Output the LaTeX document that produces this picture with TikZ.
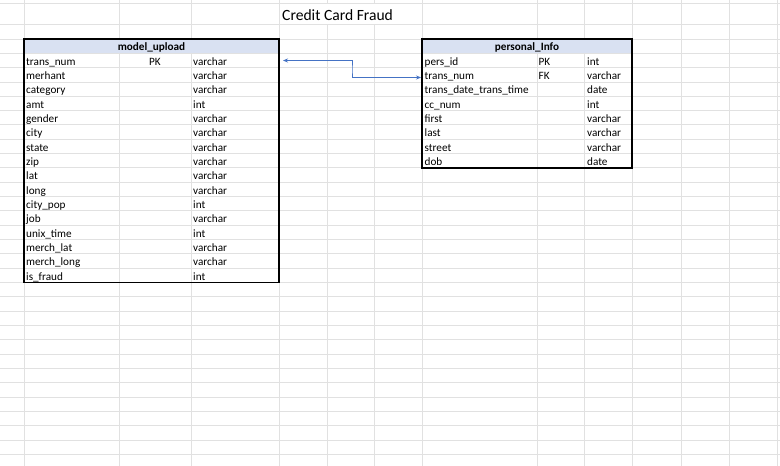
\documentclass[tikz,border=0pt]{standalone}
\usepackage{fontspec}
\setmainfont{Carlito}
\usetikzlibrary{arrows.meta}
\definecolor{gridgray}{HTML}{E1E1E1}
\definecolor{headblue}{HTML}{D9E1F2}
\definecolor{linkblue}{HTML}{4472C4}
\tikzset{
  gridline/.style={draw=gridgray, line width=0.9pt},
  tableframe/.style={draw=black, line width=1.4pt},
  cell/.style={anchor=base west, inner sep=0pt, font=\fontsize{11.2}{13}\selectfont},
  keycell/.style={anchor=base, inner sep=0pt, font=\fontsize{11.2}{13}\selectfont},
  headcell/.style={anchor=base, inner sep=0pt, font=\fontsize{11.2}{13}\selectfont\bfseries},
  titlecell/.style={anchor=base west, inner sep=0pt, font=\fontsize{15.6}{18}\selectfont}
}
\begin{document}
\begin{tikzpicture}[x=1pt, y=-1pt]
    \useasboundingbox[fill=white] (0,0) rectangle (780,466);
    % sheet grid
    \foreach \x in {24,119,191,279,422,537,584,632,681,729,777}
      \draw[gridline] (\x,0) -- (\x,466);
    \foreach \x in {327,374} {
      \draw[gridline] (\x,0) -- (\x,3);
      \draw[gridline] (\x,24) -- (\x,466);
    }
    \draw[gridline] (0,3) -- (780,3);
    \draw[gridline] (0,24) -- (780,24);
    \foreach \k in {0,...,29}
      \draw[gridline] (0,39+14.32*\k) -- (780,39+14.32*\k);
    \node[titlecell] (title) at (282,20.5) {Credit Card Fraud};

    % model_upload
    \fill[headblue] (24,39) rectangle (279,53.32);
    \draw[tableframe] (24,39) rectangle (279,282.44);
    \node[headcell] (muhead) at (151.5,50.5) {model\_upload};
    \foreach \name/\key/\type [count=\i] in {trans\_num/PK/varchar, merhant//varchar,
        category//varchar, amt//int, gender//varchar, city//varchar, state//varchar,
        zip//varchar, lat//varchar, long//varchar, city\_pop//int, job//varchar,
        unix\_time//int, merch\_lat//varchar, merch\_long//varchar, is\_fraud//int} {
      \node[cell] (mu-\i) at (26,51+14.32*\i) {\name};
      \node[keycell] (mukey-\i) at (155,51+14.32*\i) {\key};
      \node[cell] (mutype-\i) at (193,51+14.32*\i) {\type};
    }

    % personal_Info
    \fill[headblue] (422,39) rectangle (632,53.32);
    \draw[tableframe] (422,39) rectangle (632,167.88);
    \node[headcell] (pihead) at (527,50.5) {personal\_Info};
    \foreach \name/\key/\type [count=\i] in {pers\_id/PK/int, trans\_num/FK/varchar,
        trans\_date\_trans\_time//date, cc\_num//int, first//varchar, last//varchar,
        street//varchar, dob//date} {
      \node[cell] (pi-\i) at (424.5,51+14.32*\i) {\name};
      \node[cell] (pikey-\i) at (538.5,51+14.32*\i) {\key};
      \node[cell] (pitype-\i) at (587,51+14.32*\i) {\type};
    }

    % link trans_num <-> trans_num
    \coordinate (mulink) at (283,60.5);
    \coordinate (bend) at (352,70);
    \coordinate (pilink) at (421,77.5);
    \draw[linkblue, line width=0.8pt, {Stealth[length=5pt,width=4pt]}-{Stealth[length=5pt,width=4pt]}]
      (mulink) -| (bend) |- (pilink);
\end{tikzpicture}
\end{document}
